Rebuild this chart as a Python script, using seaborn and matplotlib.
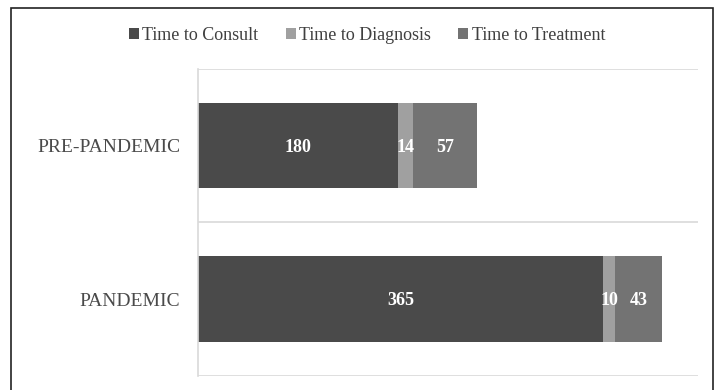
import matplotlib
matplotlib.use("Agg")
import matplotlib.pyplot as plt
from matplotlib.patches import Patch, Rectangle
import seaborn as sns
import pandas as pd
import numpy as np

# Waiting times (days) per period, split by stage
periods = ["PRE-PANDEMIC", "PANDEMIC"]
stages = ["Time to Consult", "Time to Diagnosis", "Time to Treatment"]
time_to_consult = [180, 365]
time_to_diagnosis = [14, 10]
time_to_treatment = [57, 43]
colors = ["#4a4a4a", "#a0a0a0", "#737373"]

sns.set_theme(style="white")
plt.rcParams["font.family"] = ["Liberation Serif", "DejaVu Serif"]

df = pd.DataFrame({
    "period": periods,
    stages[0]: time_to_consult,
    stages[1]: time_to_diagnosis,
    stages[2]: time_to_treatment,
})
cum = df[stages].cumsum(axis=1)

fig = plt.figure(figsize=(7.17, 3.90), dpi=100)
ax = fig.add_axes([197.5 / 717, 1 - 375.7 / 390, (698 - 197.5) / 717, (375.7 - 69) / 390])

# Stacked bars: draw cumulative totals back to front
for stage, color in reversed(list(zip(stages, colors))):
    sns.barplot(x=cum[stage], y=df["period"], orient="h", color=color,
                width=0.556, saturation=1, ax=ax, edgecolor="none")

# Value labels centred in each segment
for i in range(len(periods)):
    start = 0
    for stage in stages:
        val = df.loc[i, stage]
        ax.text(start + val / 2, i + 0.01, f"{val}", ha="center", va="center",
                color="white", fontsize=13, fontweight="bold")
        start += val

ax.set_xlim(0, 450)
ax.set_ylim(1.5, -0.5)
ax.set_xlabel("")
ax.set_ylabel("")
ax.set_xticks([])
ax.set_yticks(range(len(periods)))
ax.set_yticklabels(periods, fontsize=14, color="#4a4a4a")
ax.tick_params(axis="y", length=0, pad=12.5)
ax.set_yticks([-0.5, 0.5, 1.5], minor=True)
ax.tick_params(axis="y", which="minor", length=0)
ax.grid(axis="y", which="minor", color="#d9d9d9", linewidth=1.2)
ax.set_axisbelow(True)
for side in ["top", "right", "bottom"]:
    ax.spines[side].set_visible(False)
ax.spines["left"].set_color("#d9d9d9")
ax.spines["left"].set_linewidth(1.2)

handles = [Patch(facecolor=c, edgecolor="none", label=s) for s, c in zip(stages, colors)]
fig.legend(handles=handles, loc="center", bbox_to_anchor=(0.512, 0.91), ncol=3,
           frameon=False, fontsize=13, handlelength=0.55, handleheight=0.55,
           handletextpad=0.2, columnspacing=1.5, labelcolor="#404040")

# Outer chart frame
fig.patches.append(Rectangle((11 / 717, -0.2), (713 - 11) / 717, 1.2 - 8 / 390,
                             transform=fig.transFigure, fill=False,
                             edgecolor="#222222", linewidth=1.2))

fig.savefig("out.png", dpi=100)
